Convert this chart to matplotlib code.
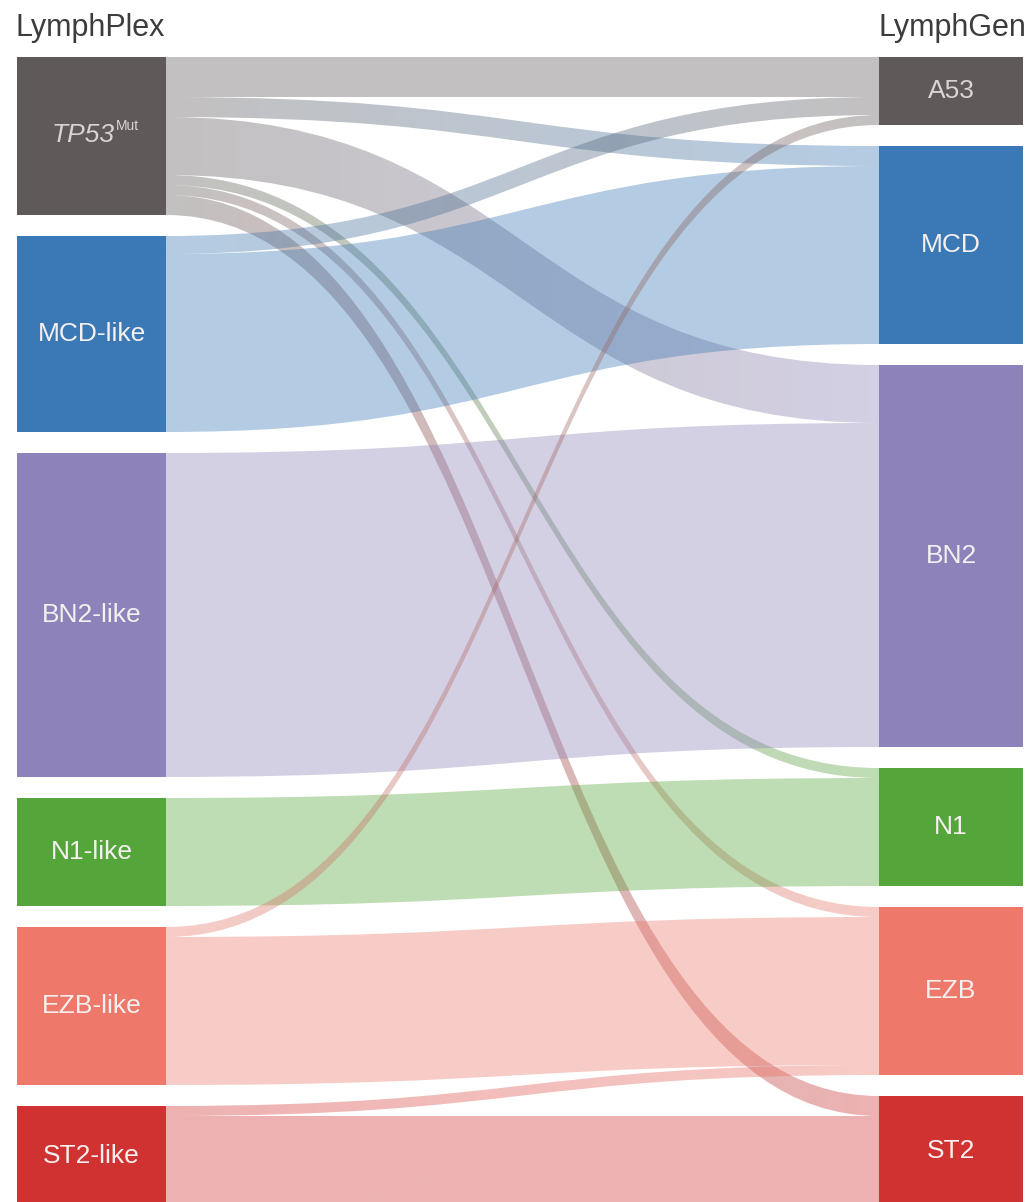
import numpy as np
import matplotlib
matplotlib.use("Agg")
import matplotlib.pyplot as plt
from matplotlib.path import Path
from matplotlib.patches import PathPatch, Rectangle
from matplotlib.colors import to_rgb

plt.rcParams["font.family"] = ["Liberation Sans", "DejaVu Sans"]

# ---- data -------------------------------------------------------------
left_nodes = ["TP53Mut", "MCD-like", "BN2-like", "N1-like", "EZB-like", "ST2-like"]
right_nodes = ["A53", "MCD", "BN2", "N1", "EZB", "ST2"]
left_colors = ["#5f5959", "#3a78b6", "#8d82b9", "#55a63a", "#ee7869", "#d03131"]
right_colors = ["#5f5959", "#3a78b6", "#8d82b9", "#55a63a", "#ee7869", "#d03131"]

flow_source = ["TP53Mut"] * 6 + ["MCD-like"] * 2 + ["BN2-like", "N1-like"] \
    + ["EZB-like"] * 2 + ["ST2-like"] * 2
flow_target = ["A53", "MCD", "BN2", "N1", "EZB", "ST2",
               "A53", "MCD",
               "BN2",
               "N1",
               "A53", "EZB",
               "EZB", "ST2"]
flow_value = [20, 10, 29, 5, 5, 10,
              9, 89,
              162,
              54,
              5, 74,
              5, 45]

# ---- layout -----------------------------------------------------------
W, H = 1029, 1202
SCALE = 2.0       # vertical units per case
GAP = 21          # space between stacked nodes
TOP = 57
LX0, LX1 = 17, 166
RX0, RX1 = 879, 1023
FLOW_ALPHA = 0.38

fig = plt.figure(figsize=(W / 100, H / 100), dpi=100)
ax = fig.add_axes([0, 0, 1, 1])
ax.set_xlim(0, W)
ax.set_ylim(H, 0)
ax.axis("off")


def stack(names, key):
    totals = {n: 0.0 for n in names}
    for s, t, v in zip(flow_source, flow_target, flow_value):
        totals[key(s, t)] += v
    pos, y = {}, TOP
    for n in names:
        h = totals[n] * SCALE
        pos[n] = (y, y + h)
        y += h + GAP
    return pos


left_pos = stack(left_nodes, lambda s, t: s)
right_pos = stack(right_nodes, lambda s, t: t)

# vertical offsets of each ribbon at both ends
flows = list(zip(flow_source, flow_target, flow_value))
left_off = {n: left_pos[n][0] for n in left_nodes}
right_off = {n: right_pos[n][0] for n in right_nodes}
ends_left, ends_right = {}, {}
for i, (s, t, v) in sorted(enumerate(flows),
                           key=lambda kv: (left_nodes.index(kv[1][0]),
                                           right_nodes.index(kv[1][1]))):
    h = v * SCALE
    ends_left[i] = (left_off[s], left_off[s] + h)
    left_off[s] += h
for i, (s, t, v) in sorted(enumerate(flows),
                           key=lambda kv: (right_nodes.index(kv[1][1]),
                                           left_nodes.index(kv[1][0]))):
    h = v * SCALE
    ends_right[i] = (right_off[t], right_off[t] + h)
    right_off[t] += h


def ribbon(xa, xb, a0, a1, b0, b1):
    xm = (xa + xb) / 2
    verts = [(xa, a0), (xm, a0), (xm, b0), (xb, b0),
             (xb, b1), (xm, b1), (xm, a1), (xa, a1), (xa, a0)]
    codes = [Path.MOVETO, Path.CURVE4, Path.CURVE4, Path.CURVE4,
             Path.LINETO, Path.CURVE4, Path.CURVE4, Path.CURVE4,
             Path.CLOSEPOLY]
    return Path(verts, codes)


# ribbons, coloured with a gradient from source to target colour
for i, (s, t, v) in enumerate(flows):
    a0, a1 = ends_left[i]
    b0, b1 = ends_right[i]
    path = ribbon(LX1, RX0, a0, a1, b0, b1)
    patch = PathPatch(path, facecolor="none", edgecolor="none")
    ax.add_patch(patch)
    c0 = np.array(to_rgb(left_colors[left_nodes.index(s)]))
    c1 = np.array(to_rgb(right_colors[right_nodes.index(t)]))
    n = 256
    f = np.linspace(0, 1, n)[:, None]
    rgb = c0 * (1 - f) + c1 * f
    img = np.concatenate([rgb, np.full((n, 1), FLOW_ALPHA)], axis=1)[None, :, :]
    ymin = min(a0, b0) - 1
    ymax = max(a1, b1) + 1
    im = ax.imshow(img, extent=(LX1, RX0, ymax, ymin), aspect="auto",
                   interpolation="bilinear", zorder=1)
    im.set_clip_path(patch)

ax.set_xlim(0, W)
ax.set_ylim(H, 0)

# nodes
label_color = "#f4f0ef"
for name, col in zip(left_nodes, left_colors):
    y0, y1 = left_pos[name]
    ax.add_patch(Rectangle((LX0, y0), LX1 - LX0, y1 - y0, facecolor=col,
                           edgecolor="none", zorder=3))
    yc = (y0 + y1) / 2
    if name == "TP53Mut":
        ax.text(115, yc + 6, "TP53", fontsize=19, style="italic",
                color="#d9d4d3", ha="right", va="baseline", zorder=4)
        ax.text(116, yc - 6, "Mut", fontsize=10, color="#d9d4d3",
                ha="left", va="baseline", zorder=4)
    else:
        ax.text((LX0 + LX1) / 2, yc, name, fontsize=19, color=label_color,
                ha="center", va="center", zorder=4)

for name, col in zip(right_nodes, right_colors):
    y0, y1 = right_pos[name]
    ax.add_patch(Rectangle((RX0, y0), RX1 - RX0, y1 - y0, facecolor=col,
                           edgecolor="none", zorder=3))
    ax.text((RX0 + RX1) / 2, (y0 + y1) / 2, name, fontsize=19,
            color=label_color if name != "A53" else "#d9d4d3",
            ha="center", va="center", zorder=4)

# column headers
ax.text(16, 36, "LymphPlex", fontsize=22, color="#3c3c3c", ha="left",
        va="baseline")
ax.text(1026, 36, "LymphGen", fontsize=22, color="#3c3c3c", ha="right",
        va="baseline")

fig.savefig("out.png", dpi=100)
